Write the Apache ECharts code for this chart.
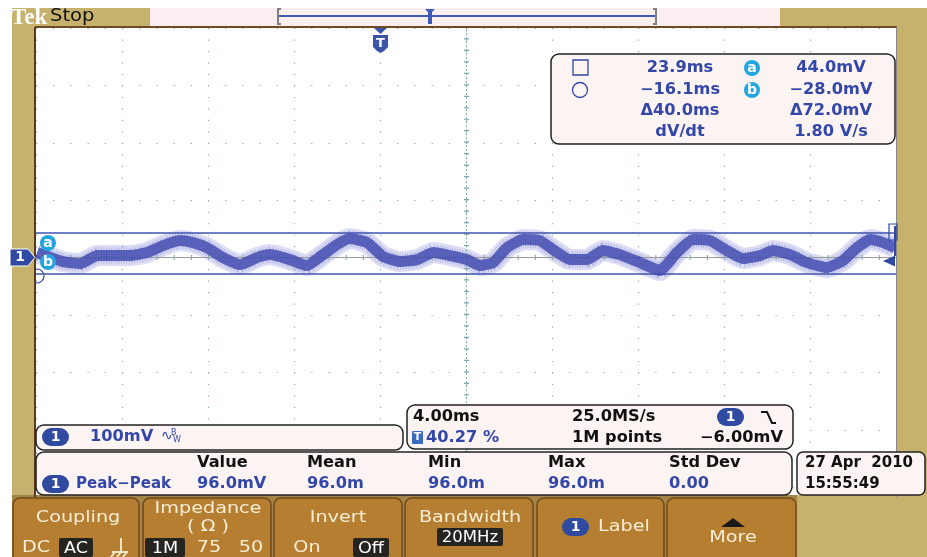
<!DOCTYPE html>
<html><head><meta charset="utf-8">
<script src="https://cdn.jsdelivr.net/npm/echarts@6/dist/echarts.min.js"></script>
<style>html,body{margin:0;padding:0;background:#fff}#c{width:927px;height:557px}</style>
</head><body><div id="c"></div><script>
// ---- data (time relative to trigger, ms; channel 1, mV) ----
const timeMs = [-16.05,-14.84,-14.05,-13.26,-12.33,-11.73,-10.94,-10.19,-9.40,-8.80,-8.15,-7.40,-6.61,-5.82,-5.22,-4.29,-3.50,-2.75,-2.10,-1.50,-0.70,0.04,0.83,1.62,2.37,3.16,3.95,4.55,5.16,5.81,6.55,7.34,7.95,8.74,9.53,10.27,11.06,11.99,12.92,13.71,14.46,15.25,16.04,16.78,17.57,18.18,18.97,19.76,20.69,21.43,22.09,22.69,23.30,23.85];
const ch1mV = [8.7,-7,-10.5,3.5,3.5,3.5,8.7,20.9,29.6,26.1,17.4,0,-12.2,0,5.2,-3.5,-13.9,5.2,22.6,33.1,26.1,2,-7,-3.5,8.7,3.5,-3.5,-13.9,-8.7,17.4,31.4,29.6,13.9,-3.5,-3.5,12.2,5.2,-8.7,-22.6,8.7,31.4,29.6,12.2,-1.7,3.5,12.2,5.2,-8.7,-17.4,-5.2,17.4,31.4,26.1,17.4];
const timeWindow = [-16.1, 23.9];        // ms, left/right edge of screen
const voltRange = [-400, 400];          // mV, 100 mV/div, 8 div
const cursorA = 44.0, cursorB = -28.0;  // mV
const triggerLevel = -6.0;              // mV
const cursorReadout = [["23.9ms","44.0mV"],["\u221216.1ms","\u221228.0mV"],["\u039440.0ms","\u039472.0mV"],["dV/dt","1.80 V/s"]];
const measHeaders = ["Value","Mean","Min","Max","Std Dev"];
const measValues = ["96.0mV","96.0m","96.0m","96.0m","0.00"];

const BLUE = '#3347a8', KHAKI = '#c6b26c', BTN = '#b67e30', CREAM = '#f7eed6', PAPER = '#fcf3f3';
const FONT = '"DejaVu Sans", sans-serif';
const SX = 1.08;

function R(x,y,w,h,fill,stroke,r,lw,z){return {type:'rect',shape:{x:x,y:y,width:w,height:h,r:r||0},style:{fill:fill||'none',stroke:stroke||'none',lineWidth:lw||1},z:z||10,silent:true};}
function T(x,y,text,o){o=o||{};return {type:'text',x:x,y:y,scaleX:o.sx||SX,z:o.z||60,silent:true,style:{text:text,fill:o.c||BLUE,font:(o.w||'bold')+' '+(o.s||15)+'px '+(o.f||FONT),textAlign:o.a||'left',textVerticalAlign:'middle'}};}
function L(x1,y1,x2,y2,c,w,z){return {type:'line',shape:{x1:x1,y1:y1,x2:x2,y2:y2},style:{stroke:c,lineWidth:w},z:z||30,silent:true};}
function pill(x,y,z){return [R(x,y-9,27,18,'#2f4aa0',null,9,1,z||60),T(x+13.5,y,'1',{c:'#fff',w:'bold',s:14,a:'center',sx:1,z:(z||60)+1})];}
function cyan(x,y,l){return [{type:'circle',shape:{cx:x,cy:y,r:8},style:{fill:'#23a6e0'},z:60,silent:true},T(x,y,l,{c:'#fff',w:'bold',s:14,a:'center',sx:1,z:61})];}
function blk(x,y,w,h,text,s){return [R(x,y,w,h,'#262420',null,2,1,40),T(x+w/2,y+h/2+1,text,{c:'#fff',w:'normal',s:s||16,a:'center',z:41,sx:1.1})];}

let G = [];
// frame / background
G.push(R(12,8,138,20,KHAKI,null,0,1,5));
G.push(R(150,8,630,19,'#fbeef1',null,0,1,5));
G.push(R(780,8,147,20,KHAKI,null,0,1,5));
G.push(R(12,8,23,490,KHAKI,null,0,1,5));
G.push(R(897,8,30,490,KHAKI,null,0,1,5));
G.push(R(12,495,915,62,'#a48447',null,0,1,5));
G.push(R(797,495,130,62,KHAKI,null,0,1,6));
G.push(L(35,27,897,27,'#6e4b22',2,8));
G.push(L(35,27,35,497,'#5a3a1a',2,8));
G.push(L(896.5,27,896.5,497,'#8a8a8a',1,8));
// top bar
G.push(T(11,18,'Tek',{c:'#fff',s:23,w:'bold',f:'"Liberation Serif", serif',sx:1}));
G.push(T(50,17,'Stop',{c:'#111',s:17,w:'normal',sx:1.15}));
G.push(L(279,16,655,16,'#3f5bb8',2,20));
G.push({type:'polyline',shape:{points:[[281,9],[278,9],[278,24],[281,24]]},style:{stroke:'#808080',lineWidth:2,fill:'none'},z:20,silent:true});
G.push({type:'polyline',shape:{points:[[653,9],[656,9],[656,24],[653,24]]},style:{stroke:'#808080',lineWidth:2,fill:'none'},z:20,silent:true});
G.push({type:'polygon',shape:{points:[[425,9],[435,9],[432,12],[432,24],[428,24],[428,12]]},style:{fill:'#3f5bb8'},z:21,silent:true});
// trigger T marker
G.push({type:'polygon',shape:{points:[[374,28],[387,28],[380.5,34]]},style:{fill:'#3a55a8'},z:30,silent:true});
G.push({type:'polygon',shape:{points:[[373,35],[388,35],[388,47],[384,51],[380.5,53],[377,51],[373,47]]},style:{fill:'#3a55a8'},z:30,silent:true});
G.push(T(380.5,43.5,'T',{c:'#fff',w:'bold',s:13,a:'center',sx:1,z:31}));
// channel 1 marker
G.push({type:'polygon',shape:{points:[[10,249],[28,249],[35,257.5],[28,266],[10,266]]},style:{fill:'#2f4aa0',stroke:'#fff',lineWidth:1},z:30,silent:true});
G.push(T(20,257.5,'1',{c:'#fff',w:'bold',s:14,a:'center',sx:1,z:31}));
G = G.concat(cyan(48,243,'a'), cyan(48,262,'b'));
G.push({type:'circle',shape:{cx:37,cy:276,r:7},style:{fill:'none',stroke:BLUE,lineWidth:1.2},z:4,silent:true});
G.push(R(889,224,8,16,null,BLUE,0,1.2,30));
G.push(L(895,226,895,256,BLUE,2,30));

// cursor readout box
G.push(R(551,54,344,90,PAPER,'#222',8,1.5,50));
G.push(R(573,60,15,15,null,BLUE,0,1.3,55));
G.push({type:'circle',shape:{cx:580,cy:90,r:7.5},style:{fill:'none',stroke:BLUE,lineWidth:1.3},z:55,silent:true});
G = G.concat(cyan(752,68,'a'), cyan(752,90,'b'));
const rowsY=[68,90,111,132];
cursorReadout.forEach(function(r,i){G.push(T(680,rowsY[i],r[0],{a:'center'}));G.push(T(831,rowsY[i],r[1],{a:'center'}));});

// bottom readouts
G.push(R(36,425,367,25,PAPER,'#222',8,1.5,50));
G = G.concat(pill(42,437));
G.push(T(90,437,'100mV'));
G.push(T(161,436,'\u223F',{s:14,sx:1,w:'normal'}));
G.push(T(171,433,'B',{s:8,sx:1,w:'normal'}));G.push(T(173,440,'W',{s:8,sx:1,w:'normal'}));
G.push(R(407,405,386,44,PAPER,'#222',8,1.5,50));
G.push(T(413,417,'4.00ms',{c:'#111'}));
G.push(T(572,417,'25.0MS/s',{c:'#111'}));
G = G.concat(pill(717,417));
G.push({type:'polyline',shape:{points:[[761,412],[767,412],[772,423],[776,423]]},style:{stroke:'#111',lineWidth:2,fill:'none'},z:60,silent:true});
G.push(R(412,431,11,13,'#3a6ac0',null,1,1,60));
G.push(T(417.5,437.5,'T',{c:'#fff',w:'bold',s:11,a:'center',sx:1,z:61}));
G.push(T(426,438,'40.27 %'));
G.push(T(572,438,'1M points',{c:'#111'}));
G.push(T(700,438,'\u22126.00mV',{c:'#111'}));
G.push(R(36,452,756,43,PAPER,'#222',8,1.5,50));
const colX=[197,307,428,548,669];
measHeaders.forEach(function(h,i){G.push(T(colX[i],463,h,{c:'#111'}));});
measValues.forEach(function(v,i){G.push(T(colX[i],484,v));});
G = G.concat(pill(42,484));
G.push(T(76,484,'Peak\u2212Peak',{sx:1.0}));
G.push(R(797,452,128,43,PAPER,'#222',6,1.5,50));
G.push(T(805,463,'27 Apr  2010',{c:'#111',sx:1.0}));
G.push(T(805,484,'15:55:49',{c:'#111',sx:1.0}));

// bottom buttons
const btns=[[13,126],[143,128],[274,128],[405,128],[537,127],[667,129]];
btns.forEach(function(b){G.push({type:'rect',shape:{x:b[0],y:498,width:b[1],height:64,r:[7,7,0,0]},style:{fill:BTN,stroke:'#6d4a1c',lineWidth:1.5},z:20,silent:true});});
function BT(x,y,t,a){return T(x,y,t,{c:CREAM,s:16,w:'normal',a:a||'center',z:30,sx:1.2});}
G.push(BT(78,518,'Coupling'));
G.push(BT(36,548,'DC'));
G = G.concat(blk(59,538,34,19,'AC'));
G.push(L(121,538,121,552,CREAM,1.8),L(112,552,128,552,CREAM,1.8),L(115,552,111,557,CREAM,1.8),L(121,552,117,557,CREAM,1.8),L(127,552,123,557,CREAM,1.8));
G.push(BT(208,509,'Impedance'));
G.push(BT(208,527,'( \u03A9 )'));
G = G.concat(blk(145,538,40,19,'1M'));
G.push(BT(209,548,'75'));
G.push(BT(251,548,'50'));
G.push(BT(338,518,'Invert'));
G.push(BT(307,548,'On'));
G = G.concat(blk(353,538,36,19,'Off'));
G.push(BT(470,518,'Bandwidth'));
G = G.concat(blk(437,528,66,18,'20MHz',15));
G = G.concat(pill(562,527,30));
G.push(BT(598,527,'Label','left'));
G.push({type:'polygon',shape:{points:[[721,527],[745,527],[733,518]]},style:{fill:'#1c1a16'},z:30,silent:true});
G.push(BT(733,538,'More'));

const chart = echarts.init(document.getElementById('c'), null, {renderer:'canvas'});
const traceData = timeMs.map(function(t,i){return [t, ch1mV[i]];});
const noLbl = {show:false};
function traceLayer(style,z){return {type:'line',xAxisIndex:0,yAxisIndex:0,data:traceData,symbol:'none',smooth:0.15,silent:true,z:z,lineStyle:style};}
const core = traceLayer({color:'rgba(62,72,175,0.82)',width:11},5);
core.markLine = {silent:true,symbol:['none','none'],label:noLbl,animation:false,data:[
  {yAxis:cursorA,lineStyle:{color:'#3f55b0',width:1.6,type:'solid'}},
  {yAxis:cursorB,lineStyle:{color:'#3f55b0',width:1.6,type:'solid'}}
]};
core.markPoint = {silent:true,animation:false,label:noLbl,data:[
  {coord:[timeWindow[1],triggerLevel],symbol:'triangle',symbolSize:[11,12],symbolRotate:90,symbolOffset:[-7,0],itemStyle:{color:'#2f4aa0'}}
]};
chart.setOption({
  animation:false,
  backgroundColor:'#ffffff',
  grid:{left:36,top:28,width:860,height:459.2,containLabel:false},
  xAxis:[
    {type:'value',min:timeWindow[0],max:timeWindow[1],show:false},
    {type:'value',min:0,max:10,interval:1,axisLine:{show:false},axisTick:{show:false},axisLabel:noLbl,
     splitLine:{show:true,lineStyle:{color:'#8fabb0',width:1.2,type:[1.2,10.28]}}}
  ],
  yAxis:[{type:'value',min:voltRange[0],max:voltRange[1],interval:100,axisLine:{show:false},axisTick:{show:false},axisLabel:noLbl,
     splitLine:{show:true,lineStyle:{color:'#8fabb0',width:1.2,type:[1.2,16]}}}],
  graphic:{elements:G},
  series:[
    {type:'line',xAxisIndex:1,yAxisIndex:0,data:[[5,0]],symbol:'none',lineStyle:{opacity:0},silent:true,z:1,
     markLine:{silent:true,symbol:['none','none'],label:noLbl,animation:false,data:[
       {xAxis:5,lineStyle:{color:'#7fa6aa',width:1,type:[2,2]}},
       {xAxis:5,lineStyle:{color:'#7fa6aa',width:5,type:[1.2,10.28]}},
       {yAxis:0,lineStyle:{color:'#9a9a9a',width:1.2,type:'solid'}},
       {yAxis:0,lineStyle:{color:'#8fabb0',width:5,type:[1.2,16]}}
     ]}},
    traceLayer({color:'rgba(140,140,220,0.3)',width:21},3),
    traceLayer({color:'rgba(100,105,205,0.35)',width:16,type:[1,1.5]},4),
    core
  ]
});
</script></body></html>
